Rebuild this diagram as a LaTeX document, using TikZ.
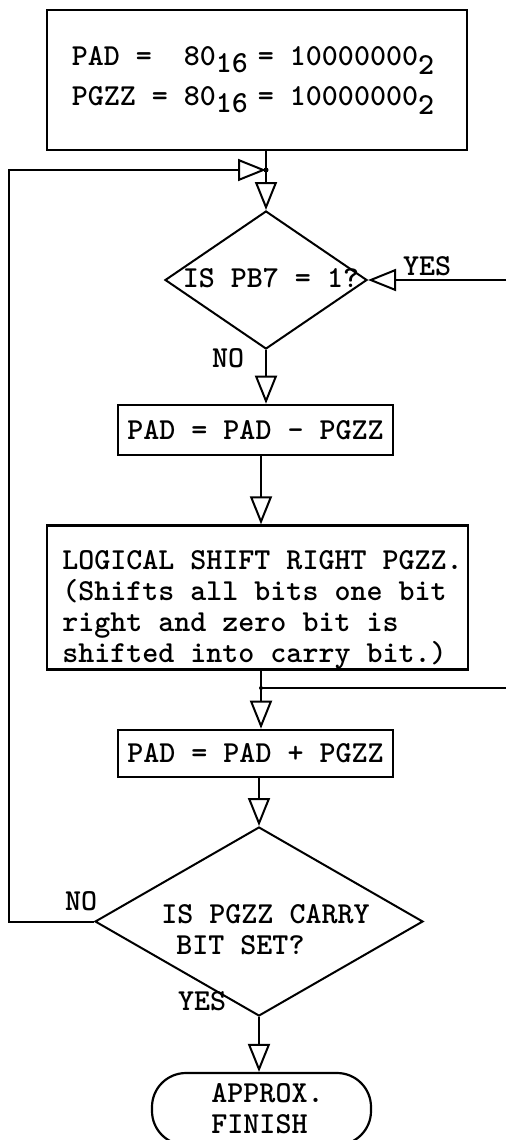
\documentclass[tikz,border=0pt]{standalone}
\usetikzlibrary{arrows.meta,shapes.geometric}
\begin{document}
\begin{tikzpicture}[x=1pt,y=-1pt,
  every node/.style={font=\ttfamily\bfseries\fontsize{30.5}{31}\selectfont, inner sep=0pt},
  box/.style={draw, line width=2.6pt, rectangle},
  dec/.style={draw, line width=2pt, diamond},
  term/.style={draw, line width=2.2pt, rectangle, rounded corners=34pt},
  conn/.style={line width=2pt},
  flow/.style={line width=2pt, -{Triangle[open,length=28pt,width=22pt,line width=2pt]}},
  lbl/.style={anchor=base west},
]
\useasboundingbox (0,0) rectangle (506,1140);

% shapes
\node[box, minimum width=420pt, minimum height=140pt, align=left] (init) at (257,80)
  {\makebox[112pt][l]{PAD =}\makebox[32pt][l]{80}\makebox[42pt][l]{\raisebox{-7pt}{16}}= 10000000\raisebox{-9pt}{2}\hspace*{8pt}\\[9pt]
   \makebox[112pt][l]{PGZZ =}\makebox[32pt][l]{80}\makebox[42pt][l]{\raisebox{-7pt}{16}}= 10000000\raisebox{-9pt}{2}\hspace*{8pt}};

\node[dec, minimum width=202pt, minimum height=138pt] (d1) at (266,280)
  {\makebox[0pt]{\hspace*{10pt}\smash{\raisebox{-7pt}{IS PB7 = 1?}}}};

\node[box, minimum width=275pt, minimum height=50pt] (sub) at (255.5,430) {PAD = PAD - PGZZ};

\node[box, minimum width=421pt, minimum height=139pt, align=left] (shift) at (257.5,597.5)
  {\hspace*{10pt}\rule{0pt}{44pt}LOGICAL SHIFT RIGHT PGZZ.\\
   \hspace*{10pt}(Shifts all bits one bit\\
   \hspace*{10pt}right and zero bit is\\
   \hspace*{10pt}shifted into carry bit.)};

\node[box, minimum width=275pt, minimum height=47pt] (add) at (255.5,753.5) {PAD = PAD + PGZZ};

\node[dec, minimum width=328pt, minimum height=189pt] (d2) at (259,921.5)
  {\makebox[0pt]{\hspace*{13pt}\smash{\raisebox{-1.5pt}{\begin{tabular}[t]{@{}l@{}}IS PGZZ CARRY\\\hspace*{15pt}BIT SET?\end{tabular}}}}};

\node[term, minimum width=219pt, minimum height=72pt, align=left] (fin) at (261.5,1109)
  {\hspace*{12pt}APPROX.\\\hspace*{12pt}FINISH};

% labels
\node[lbl] (yes1) at (403,275) {YES};
\node[lbl] (no1) at (212,367) {NO};
\node[lbl] (no2) at (65,910) {NO};
\node[lbl] (yes2) at (178,1010) {YES};

% connector points
\coordinate (j1) at (266,170);
\coordinate (lx) at (9,921.5);
\coordinate (rin) at (506,280);
\coordinate (j2) at (261,688);
\coordinate (rout) at (506,688);

% connectors
\draw[conn] (init.south -| j1) -- (j1);
\draw[flow] (j1) -- (d1.north);
\draw[flow] (d2.west) -- (lx) |- (j1);
\draw[flow] (rin) -- (d1.east);
\draw[flow] (d1.south) -- (d1.south |- sub.north);
\draw[flow] (sub.south -| j2) -- (shift.north -| j2);
\draw[conn] (shift.south -| j2) -- (j2) -- (rout);
\draw[flow] (j2) -- (add.north -| j2);
\draw[flow] (add.south -| d2.north) -- (d2.north);
\draw[flow] (d2.south) -- (fin.north -| d2.south);
\fill (j1) circle (2.5pt);
\fill (j2) circle (2pt);
\end{tikzpicture}
\end{document}
